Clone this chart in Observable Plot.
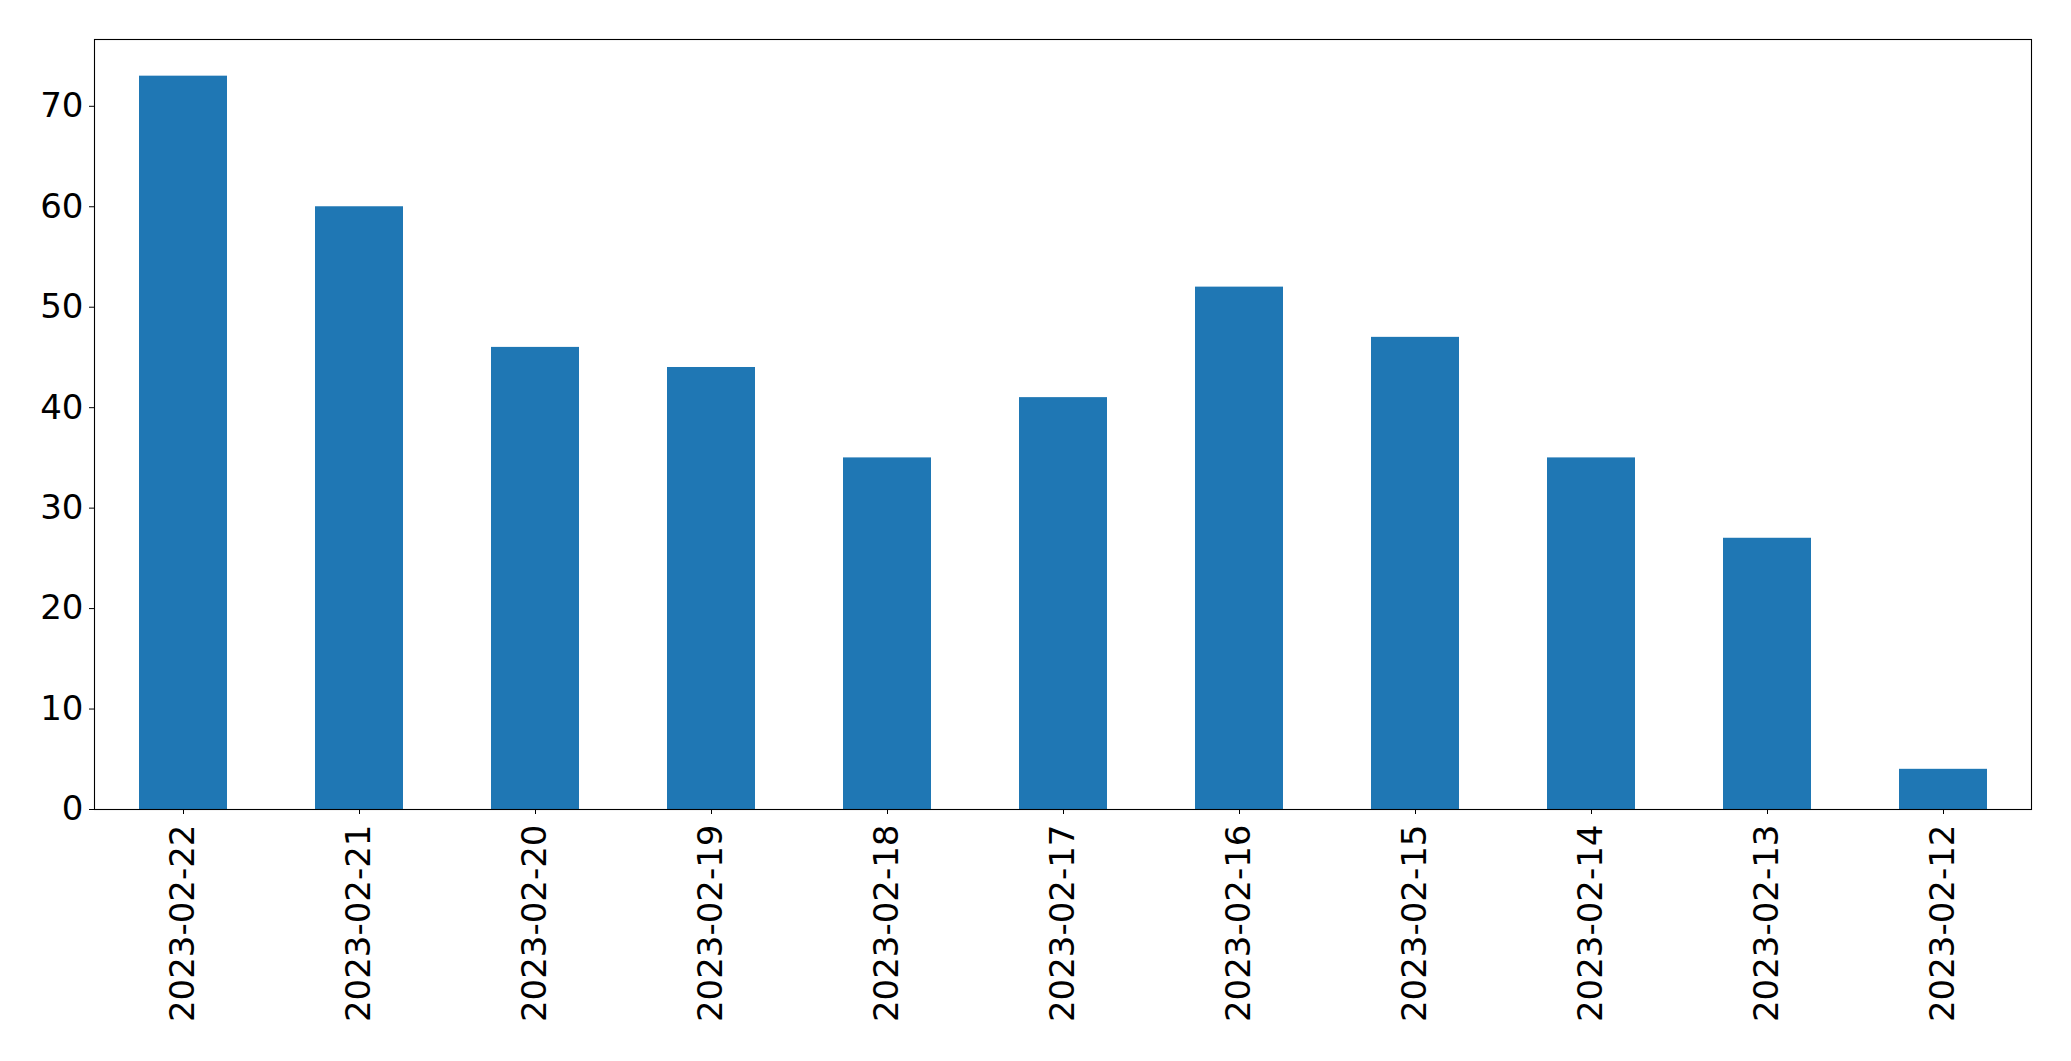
<!DOCTYPE html>
<html>
<head>
<meta charset="utf-8">
<script src="https://cdn.jsdelivr.net/npm/d3@7"></script>
<script src="https://cdn.jsdelivr.net/npm/@observablehq/plot@0.6"></script>
<style>
  html, body { margin: 0; padding: 0; background: #fff; }
  svg { display: block; }
</style>
</head>
<body>
<div id="chart"></div>
<script>
const dates = ["2023-02-22","2023-02-21","2023-02-20","2023-02-19","2023-02-18","2023-02-17","2023-02-16","2023-02-15","2023-02-14","2023-02-13","2023-02-12"];
const counts = [73, 60, 46, 44, 35, 41, 52, 47, 35, 27, 4];
const yTicks = [0, 10, 20, 30, 40, 50, 60, 70];

const data = dates.map((d, i) => ({date: d, count: counts[i]}));

const chart = Plot.plot({
  width: 2071,
  height: 1061,
  marginLeft: 94,
  marginRight: 40,
  marginTop: 39,
  marginBottom: 252,
  style: {fontFamily: "DejaVu Sans", fontSize: "34px", color: "#000", background: "#fff"},
  x: {domain: dates, paddingInner: 0.5, paddingOuter: 0.25, label: null},
  y: {domain: [0, 76.65], label: null},
  marks: [
    Plot.barY(data, {x: "date", y: "count", fill: "#1f77b4"}),
    Plot.frame({stroke: "#000", strokeWidth: 1.1}),
    Plot.axisY({ticks: yTicks, tickSize: 5, tickPadding: 6, fontSize: 34, label: null, stroke: "#000"}),
    Plot.axisX({tickSize: 5, tickPadding: 10, tickRotate: -90, fontSize: 34, label: null, stroke: "#000"})
  ]
});
document.getElementById("chart").appendChild(chart);
</script>
</body>
</html>
